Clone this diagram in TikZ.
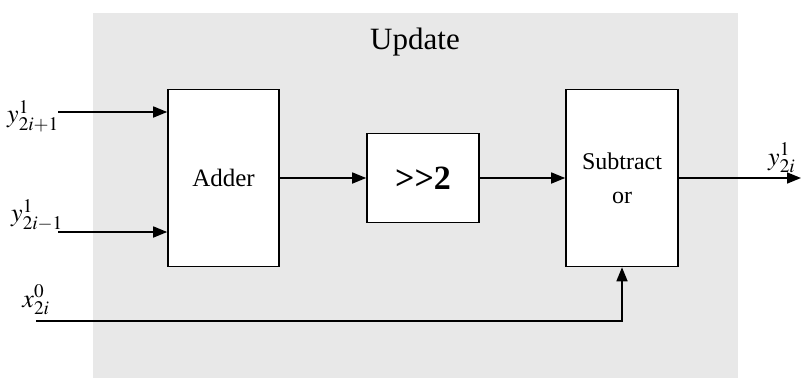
\documentclass[tikz,border=0pt]{standalone}
\usepackage{mathptmx}
\usepackage{fontspec}
\setmainfont{Liberation Serif}
\usetikzlibrary{arrows.meta}
\tikzset{
  blk/.style={draw=black, line width=1.6pt, fill=white, inner sep=0pt, align=center},
  arr/.style={line width=1.6pt, -{Triangle[length=14pt,width=11pt]}},
  lbl/.style={inner sep=0pt, font=\fontsize{26}{30}\selectfont}
}
\begin{document}
\begin{tikzpicture}[x=1pt,y=-1pt]
\useasboundingbox (0,0) rectangle (801,378);
\fill[black!9] (93,13) rectangle (738,378);
\node[inner sep=0pt, font=\fontsize{31}{36}\selectfont] (title) at (415,42) {Update};
\node[blk, minimum width=111pt, minimum height=177pt, font=\fontsize{25}{30}\selectfont] (adder) at (223.5,178) {Adder};
\node[blk, minimum width=112pt, minimum height=89pt, font=\fontsize{34}{40}\selectfont\bfseries] (shift) at (423,178) {>\kern0pt>\kern0pt2};
\node[blk, minimum width=112pt, minimum height=177pt, font=\fontsize{24}{34}\selectfont] (sub) at (622,178) {Subtract\\or};
\coordinate (i1) at (58,112);
\coordinate (i2) at (58,232);
\coordinate (i3) at (36,321);
\coordinate (o1) at (801,178);
\node[lbl] (l1) at (33,116) {$y^{1}_{2i+1}$};
\node[lbl] (l2) at (37,215) {$y^{1}_{2i-1}$};
\node[lbl] (l3) at (36,300) {$x^{0}_{2i}$};
\node[lbl, anchor=west] (l4) at (768,158) {$y^{1}_{2i}$};
\draw[arr] (i1) -- (i1 -| adder.west);
\draw[arr] (i2) -- (i2 -| adder.west);
\draw[arr] (adder.east) -- (shift.west);
\draw[arr] (shift.east) -- (sub.west);
\draw[arr] (i3) -| (sub.south);
\draw[arr] (sub.east) -- (o1);
\end{tikzpicture}
\end{document}
